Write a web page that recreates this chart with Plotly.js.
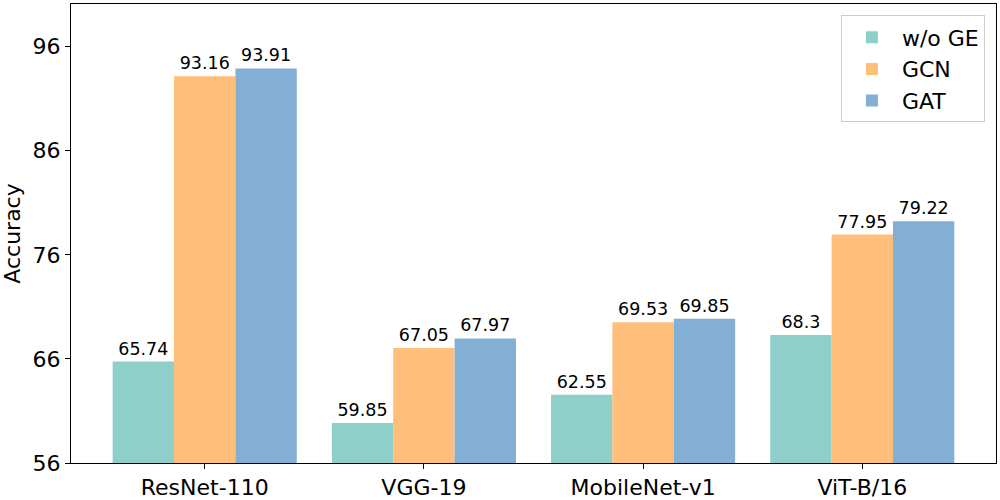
<!DOCTYPE html>
<html><head><meta charset="utf-8">
<script src="https://cdn.plot.ly/plotly-3.0.1.min.js"></script>
<style>html,body{margin:0;padding:0;background:#fff}#chart{width:1000px;height:500px}</style>
</head><body><div id="chart"></div>
<script>
const categories = ["ResNet-110", "VGG-19", "MobileNet-v1", "ViT-B/16"];
const seriesNames = ["w/o GE", "GCN", "GAT"];
const woGE = [65.74, 59.85, 62.55, 68.3];
const gcn = [93.16, 67.05, 69.53, 77.95];
const gat = [93.91, 67.97, 69.85, 79.22];
const colors = ["#8fcfc9", "#ffbe7a", "#82afd3"];
const yTicks = [56, 66, 76, 86, 96];

const font = "DejaVu Sans, sans-serif";
const allSeries = [woGE, gcn, gat];
const traces = allSeries.map((vals, i) => ({
  type: "bar",
  name: seriesNames[i],
  x: categories,
  y: vals,
  base: 0,
  marker: {color: colors[i], line: {width: 0}},
  text: vals.map(v => String(v)),
  textposition: "outside",
  textfont: {family: font, size: 17.5, color: "#000"},
  cliponaxis: false,
  hoverinfo: "none"
}));

const layout = {
  width: 1000, height: 500,
  margin: {l: 71, r: 4, t: 4, b: 37},
  barmode: "group",
  bargap: 0.16,
  bargroupgap: 0,
  paper_bgcolor: "#fff",
  plot_bgcolor: "#fff",
  font: {family: font, color: "#000"},
  xaxis: {
    type: "category",
    range: [-0.61, 3.61],
    showline: true, linecolor: "#000", linewidth: 1, mirror: true,
    ticks: "outside", ticklen: 5, tickcolor: "#000",
    tickfont: {family: font, size: 22, color: "#000"},
    showgrid: false, zeroline: false
  },
  yaxis: {
    range: [56, 100.1],
    tickvals: yTicks,
    ticktext: yTicks.map(String),
    showline: true, linecolor: "#000", linewidth: 1, mirror: true,
    ticks: "outside", ticklen: 5, tickcolor: "#000",
    tickfont: {family: font, size: 22, color: "#000"},
    showgrid: false, zeroline: false,
    title: {text: "Accuracy", font: {family: font, size: 22, color: "#000"}, standoff: 8}
  },
  legend: {
    x: 0.988, y: 0.975, xanchor: "right", yanchor: "top",
    bgcolor: "rgba(255,255,255,0.8)",
    bordercolor: "#cccccc", borderwidth: 1,
    font: {family: font, size: 22, color: "#000"},
    itemwidth: 50,
    tracegroupgap: 6
  },
  showlegend: true
};

Plotly.newPlot("chart", traces, layout, {displayModeBar: false, staticPlot: true});
</script>
</body></html>
